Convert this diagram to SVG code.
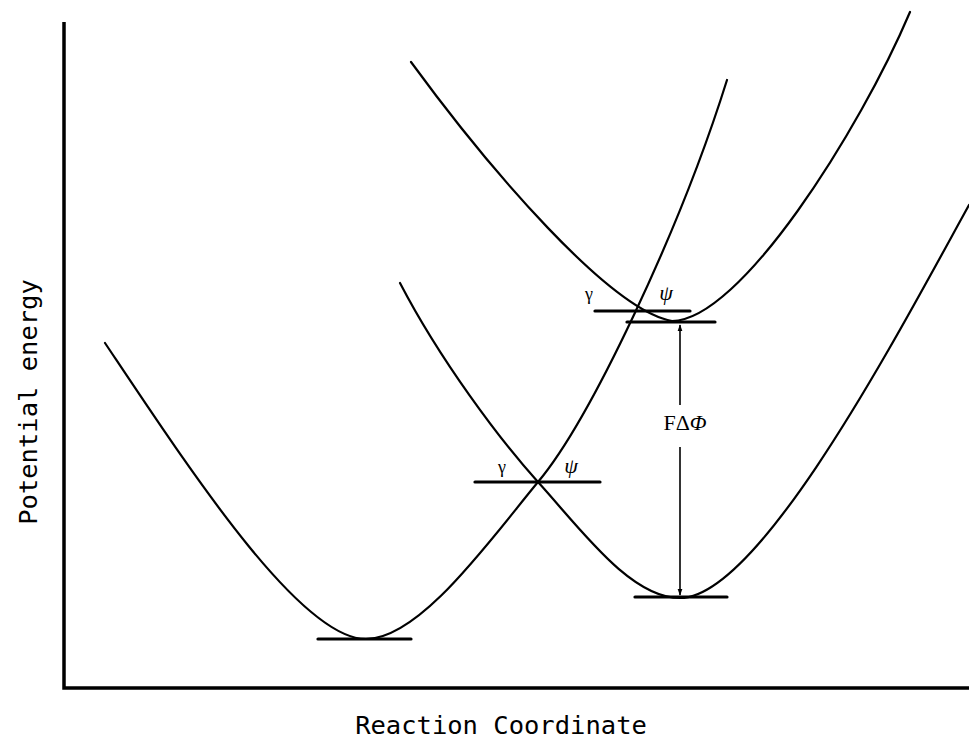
<svg xmlns="http://www.w3.org/2000/svg" width="969" height="743" viewBox="0 0 969 743">
<style>
.curve{fill:none;stroke:#000;stroke-width:2.2;stroke-linecap:round}
.bar{stroke:#000;stroke-width:3.2;stroke-linecap:round}
.axis{stroke:#000;stroke-width:3.5;fill:none}
.lbl{font-family:"DejaVu Sans Mono","Liberation Mono",monospace;font-size:25.5px;fill:#000}
.greek{font-family:"Liberation Serif","DejaVu Serif",serif;fill:#000}
</style>
<defs>
<marker id="ah" viewBox="0 0 10 10" refX="9" refY="5" markerWidth="7" markerHeight="7" orient="auto-start-reverse" markerUnits="userSpaceOnUse">
<path d="M0,1.5 L10,5 L0,8.5 z" fill="#000"/>
</marker>
</defs>
<g id="axes">
<path class="axis" d="M64,22 L64,688 L969,688"/>
</g>
<g id="axis-labels">
<text class="lbl" x="501" y="734" text-anchor="middle">Reaction Coordinate</text>
<text class="lbl" transform="translate(37,402) rotate(-90)" text-anchor="middle">Potential energy</text>
</g>
<g id="curves">
<path id="curveA" class="curve" d="M105,343 C190,470 300,639 366,639 C420,639 490,540 538,482 C590,420 680,230 727,80"/>
<path id="curveB" class="curve" d="M400,283 C440,360 500,440 538,482 C580,528 630,598 680,598 C760,598 900,330 969,205"/>
<path id="curveC" class="curve" d="M411,62 C490,170 610,310 672,321 C740,321 860,130 910,12"/>
</g>
<g id="levels">
<line class="bar" x1="318" y1="639" x2="411" y2="639"/>
<line class="bar" x1="635" y1="597" x2="727" y2="597"/>
<line class="bar" x1="475" y1="482" x2="600" y2="482"/>
<line class="bar" x1="595" y1="311" x2="690" y2="311"/>
<line class="bar" x1="627" y1="322" x2="715" y2="322"/>
</g>
<g id="connectors">
<line x1="680" y1="405" x2="680" y2="325" stroke="#000" stroke-width="1.6" marker-end="url(#ah)"/>
<line x1="680" y1="447" x2="680" y2="595" stroke="#000" stroke-width="1.6" marker-end="url(#ah)"/>
</g>
<g id="labels">
<text class="greek" x="685" y="430" font-size="22" text-anchor="middle">FΔ<tspan font-style="italic">Φ</tspan></text>
<text class="greek" x="589" y="300" font-size="18" text-anchor="middle">γ</text>
<text class="greek" x="666" y="300" font-size="22" font-style="italic" text-anchor="middle">ψ</text>
<text class="greek" x="502" y="473" font-size="18" text-anchor="middle">γ</text>
<text class="greek" x="571" y="473" font-size="22" font-style="italic" text-anchor="middle">ψ</text>
</g>
</svg>
